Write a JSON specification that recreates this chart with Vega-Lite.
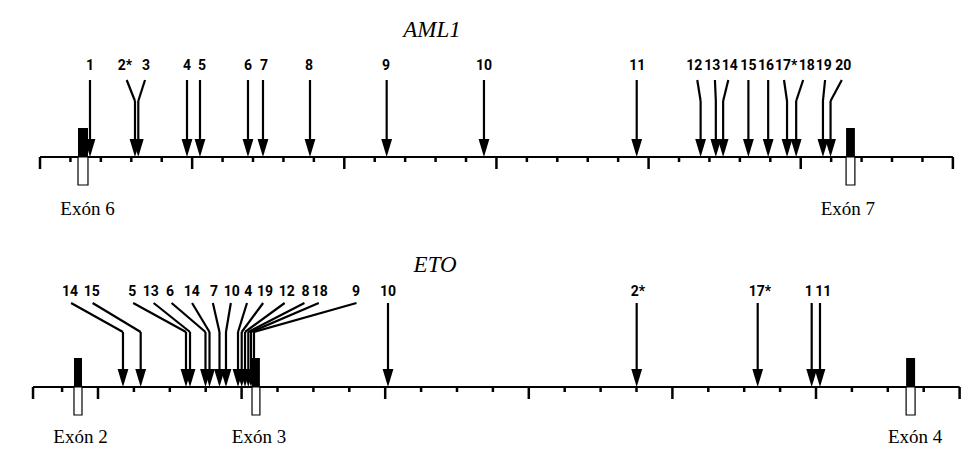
{
  "$schema": "https://vega.github.io/schema/vega-lite/v6.json",
  "background": "white",
  "padding": 0,
  "spacing": 0,
  "config": {"view": {"stroke": null}},
  "datasets": {
    "aml_arrows": [
      {"label": "1", "lab": 1.643, "top": 1.643, "tip": 1.643},
      {"label": "2*", "lab": 2.793, "top": 2.849, "tip": 3.122},
      {"label": "3", "lab": 3.483, "top": 3.451, "tip": 3.23},
      {"label": "4", "lab": 4.831, "top": 4.831, "tip": 4.831},
      {"label": "5", "lab": 5.324, "top": 5.258, "tip": 5.258},
      {"label": "6", "lab": 6.835, "top": 6.835, "tip": 6.835},
      {"label": "7", "lab": 7.361, "top": 7.328, "tip": 7.328},
      {"label": "8", "lab": 8.84, "top": 8.873, "tip": 8.873},
      {"label": "9", "lab": 11.37, "top": 11.393, "tip": 11.393},
      {"label": "10", "lab": 14.59, "top": 14.59, "tip": 14.59},
      {"label": "11", "lab": 19.63, "top": 19.61, "tip": 19.61},
      {"label": "12", "lab": 21.5, "top": 21.6, "tip": 21.71},
      {"label": "13", "lab": 22.09, "top": 22.18, "tip": 22.21},
      {"label": "14", "lab": 22.67, "top": 22.62, "tip": 22.45},
      {"label": "15", "lab": 23.28, "top": 23.28, "tip": 23.28},
      {"label": "16", "lab": 23.86, "top": 23.93, "tip": 23.93},
      {"label": "17*", "lab": 24.52, "top": 24.45, "tip": 24.55},
      {"label": "18", "lab": 25.2, "top": 25.08, "tip": 24.85},
      {"label": "19", "lab": 25.76, "top": 25.8, "tip": 25.73},
      {"label": "20", "lab": 26.4, "top": 26.35, "tip": 25.98}
    ],
    "eto_arrows": [
      {"label": "14", "lab": -0.78, "top": -0.75, "tip": 0.696},
      {"label": "15", "lab": -0.175, "top": -0.15, "tip": 1.189},
      {"label": "5", "lab": 0.955, "top": 0.98, "tip": 2.451},
      {"label": "13", "lab": 1.468, "top": 1.55, "tip": 2.563},
      {"label": "6", "lab": 2.006, "top": 2.05, "tip": 2.994},
      {"label": "14", "lab": 2.61, "top": 2.62, "tip": 3.106},
      {"label": "7", "lab": 3.231, "top": 3.2, "tip": 3.384},
      {"label": "10", "lab": 3.724, "top": 3.7, "tip": 3.565},
      {"label": "4", "lab": 4.187, "top": 4.15, "tip": 3.9},
      {"label": "19", "lab": 4.652, "top": 4.6, "tip": 4.003},
      {"label": "12", "lab": 5.256, "top": 5.2, "tip": 4.095},
      {"label": "8", "lab": 5.78, "top": 5.75, "tip": 4.187},
      {"label": "18", "lab": 6.18, "top": 6.15, "tip": 4.262},
      {"label": "9", "lab": 7.187, "top": 7.2, "tip": 4.345},
      {"label": "10", "lab": 8.078, "top": 8.078, "tip": 8.078},
      {"label": "2*", "lab": 15.04, "top": 15.005, "tip": 15.005},
      {"label": "17*", "lab": 18.44, "top": 18.376, "tip": 18.376},
      {"label": "1", "lab": 19.8, "top": 19.88, "tip": 19.88},
      {"label": "11", "lab": 20.2, "top": 20.111, "tip": 20.111}
    ],
    "aml_ticks": [
      {"pos": 0, "major": true}, {"pos": 1, "major": false}, {"pos": 2, "major": false}, {"pos": 3, "major": false}, {"pos": 4, "major": false},
      {"pos": 5, "major": true}, {"pos": 6, "major": false}, {"pos": 7, "major": false}, {"pos": 8, "major": false}, {"pos": 9, "major": false},
      {"pos": 10, "major": true}, {"pos": 11, "major": false}, {"pos": 12, "major": false}, {"pos": 13, "major": false}, {"pos": 14, "major": false},
      {"pos": 15, "major": true}, {"pos": 16, "major": false}, {"pos": 17, "major": false}, {"pos": 18, "major": false}, {"pos": 19, "major": false},
      {"pos": 20, "major": true}, {"pos": 21, "major": false}, {"pos": 22, "major": false}, {"pos": 23, "major": false}, {"pos": 24, "major": false},
      {"pos": 25, "major": true}, {"pos": 26, "major": false}, {"pos": 27, "major": false}, {"pos": 28, "major": false}, {"pos": 29, "major": false},
      {"pos": 30, "major": true}
    ],
    "eto_ticks": [
      {"pos": -1.81, "major": true}, {"pos": -1, "major": false},
      {"pos": 0, "major": true}, {"pos": 1, "major": false}, {"pos": 2, "major": false}, {"pos": 3, "major": false},
      {"pos": 4, "major": true}, {"pos": 5, "major": false}, {"pos": 6, "major": false}, {"pos": 7, "major": false},
      {"pos": 8, "major": true}, {"pos": 9, "major": false}, {"pos": 10, "major": false}, {"pos": 11, "major": false},
      {"pos": 12, "major": true}, {"pos": 13, "major": false}, {"pos": 14, "major": false}, {"pos": 15, "major": false},
      {"pos": 16, "major": true}, {"pos": 17, "major": false}, {"pos": 18, "major": false}, {"pos": 19, "major": false},
      {"pos": 20, "major": true}, {"pos": 21, "major": false}, {"pos": 22, "major": false}, {"pos": 23, "major": false},
      {"pos": 24, "major": true}
    ],
    "aml_exons": [
      {"exon": "Exón 6", "start": 1.249, "end": 1.577, "lab": 1.56},
      {"exon": "Exón 7", "start": 26.49, "end": 26.78, "lab": 26.55}
    ],
    "eto_exons": [
      {"exon": "Exón 2", "start": -0.669, "end": -0.446, "lab": -0.487},
      {"exon": "Exón 3", "start": 4.29, "end": 4.51, "lab": 4.485},
      {"exon": "Exón 4", "start": 22.51, "end": 22.76, "lab": 22.76}
    ],
    "aml_span": [{"gene": "AML1", "from": 0, "to": 30, "mid": 12.88}],
    "eto_span": [{"gene": "ETO", "from": -1.81, "to": 24, "mid": 9.39}]
  },
  "vconcat": [
    {
      "width": 975,
      "height": 229,
      "layer": [
        {
          "data": {"name": "aml_span"},
          "mark": {"type": "text", "font": "Liberation Serif", "fontStyle": "italic", "fontSize": 23, "baseline": "middle", "align": "center"},
          "encoding": {
            "x": {"field": "mid", "type": "quantitative", "scale": {"domain": [-1.3145, 30.727], "nice": false, "zero": false}, "axis": null},
            "y": {"datum": 127, "type": "quantitative", "scale": {"domain": [-72, 157], "nice": false, "zero": false}, "axis": null},
            "text": {"field": "gene"}
          }
        },
        {
          "data": {"name": "aml_span"},
          "mark": {"type": "rule", "color": "black", "strokeWidth": 2},
          "encoding": {
            "x": {"field": "from", "type": "quantitative"},
            "x2": {"field": "to"},
            "y": {"datum": 0, "type": "quantitative"}
          }
        },
        {
          "data": {"name": "aml_ticks"},
          "transform": [{"filter": "datum.major"}],
          "mark": {"type": "rule", "color": "black", "strokeWidth": 2.5},
          "encoding": {
            "x": {"field": "pos", "type": "quantitative"},
            "y": {"datum": 0, "type": "quantitative"},
            "y2": {"datum": -12}
          }
        },
        {
          "data": {"name": "aml_ticks"},
          "transform": [{"filter": "!datum.major"}],
          "mark": {"type": "rule", "color": "black", "strokeWidth": 2.5},
          "encoding": {
            "x": {"field": "pos", "type": "quantitative"},
            "y": {"datum": 0, "type": "quantitative"},
            "y2": {"datum": -5}
          }
        },
        {
          "data": {"name": "aml_exons"},
          "mark": {"type": "rect", "fill": "white", "stroke": "black", "strokeWidth": 1.2},
          "encoding": {
            "x": {"field": "start", "type": "quantitative"},
            "x2": {"field": "end"},
            "y": {"datum": 0, "type": "quantitative"},
            "y2": {"datum": -28}
          }
        },
        {
          "data": {"name": "aml_exons"},
          "mark": {"type": "rect", "fill": "black"},
          "encoding": {
            "x": {"field": "start", "type": "quantitative"},
            "x2": {"field": "end"},
            "y": {"datum": 29, "type": "quantitative"},
            "y2": {"datum": 0}
          }
        },
        {
          "data": {"name": "aml_exons"},
          "mark": {"type": "text", "font": "Liberation Serif", "fontSize": 19, "baseline": "middle", "align": "center"},
          "encoding": {
            "x": {"field": "lab", "type": "quantitative"},
            "y": {"datum": -52, "type": "quantitative"},
            "text": {"field": "exon"}
          }
        },
        {
          "data": {"name": "aml_arrows"},
          "mark": {"type": "rule", "color": "black", "strokeWidth": 2.2},
          "encoding": {
            "x": {"field": "top", "type": "quantitative"},
            "x2": {"field": "tip"},
            "y": {"datum": 77, "type": "quantitative"},
            "y2": {"datum": 56}
          }
        },
        {
          "data": {"name": "aml_arrows"},
          "mark": {"type": "rule", "color": "black", "strokeWidth": 2.2},
          "encoding": {
            "x": {"field": "tip", "type": "quantitative"},
            "y": {"datum": 56, "type": "quantitative"},
            "y2": {"datum": 8}
          }
        },
        {
          "data": {"name": "aml_arrows"},
          "mark": {"type": "point", "filled": true, "color": "black", "opacity": 1, "shape": "M-0.3,-1L0.3,-1L0,0Z", "size": 1296},
          "encoding": {
            "x": {"field": "tip", "type": "quantitative"},
            "y": {"datum": 0, "type": "quantitative"}
          }
        },
        {
          "data": {"name": "aml_arrows"},
          "mark": {"type": "text", "font": "Roboto", "fontWeight": "bold", "fontSize": 14, "baseline": "middle", "align": "center"},
          "encoding": {
            "x": {"field": "lab", "type": "quantitative"},
            "y": {"datum": 91, "type": "quantitative"},
            "text": {"field": "label"}
          }
        }
      ]
    },
    {
      "width": 975,
      "height": 229,
      "layer": [
        {
          "data": {"name": "eto_span"},
          "mark": {"type": "text", "font": "Liberation Serif", "fontStyle": "italic", "fontSize": 23, "baseline": "middle", "align": "center"},
          "encoding": {
            "x": {"field": "mid", "type": "quantitative", "scale": {"domain": [-2.7298, 24.429], "nice": false, "zero": false}, "axis": null},
            "y": {"datum": 122, "type": "quantitative", "scale": {"domain": [-71, 158], "nice": false, "zero": false}, "axis": null},
            "text": {"field": "gene"}
          }
        },
        {
          "data": {"name": "eto_span"},
          "mark": {"type": "rule", "color": "black", "strokeWidth": 2},
          "encoding": {
            "x": {"field": "from", "type": "quantitative"},
            "x2": {"field": "to"},
            "y": {"datum": 0, "type": "quantitative"}
          }
        },
        {
          "data": {"name": "eto_ticks"},
          "transform": [{"filter": "datum.major"}],
          "mark": {"type": "rule", "color": "black", "strokeWidth": 2.5},
          "encoding": {
            "x": {"field": "pos", "type": "quantitative"},
            "y": {"datum": 0, "type": "quantitative"},
            "y2": {"datum": -12}
          }
        },
        {
          "data": {"name": "eto_ticks"},
          "transform": [{"filter": "!datum.major"}],
          "mark": {"type": "rule", "color": "black", "strokeWidth": 2.5},
          "encoding": {
            "x": {"field": "pos", "type": "quantitative"},
            "y": {"datum": 0, "type": "quantitative"},
            "y2": {"datum": -5}
          }
        },
        {
          "data": {"name": "eto_exons"},
          "mark": {"type": "rect", "fill": "white", "stroke": "black", "strokeWidth": 1.2},
          "encoding": {
            "x": {"field": "start", "type": "quantitative"},
            "x2": {"field": "end"},
            "y": {"datum": 0, "type": "quantitative"},
            "y2": {"datum": -28}
          }
        },
        {
          "data": {"name": "eto_exons"},
          "mark": {"type": "rect", "fill": "black"},
          "encoding": {
            "x": {"field": "start", "type": "quantitative"},
            "x2": {"field": "end"},
            "y": {"datum": 29, "type": "quantitative"},
            "y2": {"datum": 0}
          }
        },
        {
          "data": {"name": "eto_exons"},
          "mark": {"type": "text", "font": "Liberation Serif", "fontSize": 19, "baseline": "middle", "align": "center"},
          "encoding": {
            "x": {"field": "lab", "type": "quantitative"},
            "y": {"datum": -50, "type": "quantitative"},
            "text": {"field": "exon"}
          }
        },
        {
          "data": {"name": "eto_arrows"},
          "mark": {"type": "rule", "color": "black", "strokeWidth": 2.2},
          "encoding": {
            "x": {"field": "top", "type": "quantitative"},
            "x2": {"field": "tip"},
            "y": {"datum": 84, "type": "quantitative"},
            "y2": {"datum": 55}
          }
        },
        {
          "data": {"name": "eto_arrows"},
          "mark": {"type": "rule", "color": "black", "strokeWidth": 2.2},
          "encoding": {
            "x": {"field": "tip", "type": "quantitative"},
            "y": {"datum": 55, "type": "quantitative"},
            "y2": {"datum": 8}
          }
        },
        {
          "data": {"name": "eto_arrows"},
          "mark": {"type": "point", "filled": true, "color": "black", "opacity": 1, "shape": "M-0.3,-1L0.3,-1L0,0Z", "size": 1296},
          "encoding": {
            "x": {"field": "tip", "type": "quantitative"},
            "y": {"datum": 0, "type": "quantitative"}
          }
        },
        {
          "data": {"name": "eto_arrows"},
          "mark": {"type": "text", "font": "Roboto", "fontWeight": "bold", "fontSize": 14, "baseline": "middle", "align": "center"},
          "encoding": {
            "x": {"field": "lab", "type": "quantitative"},
            "y": {"datum": 95, "type": "quantitative"},
            "text": {"field": "label"}
          }
        }
      ]
    }
  ]
}
